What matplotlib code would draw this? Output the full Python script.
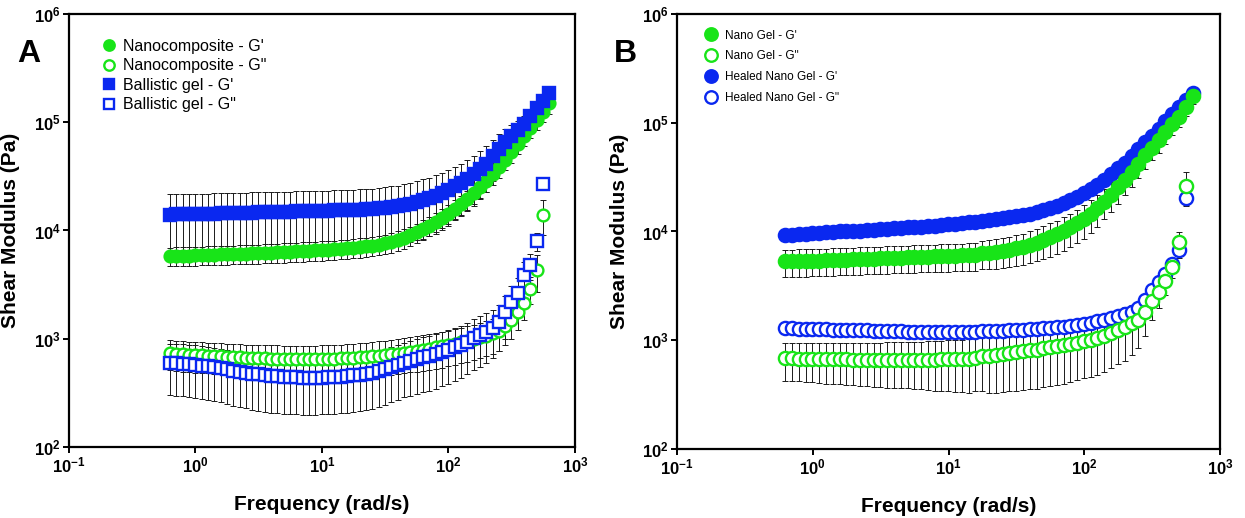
import numpy as np
import matplotlib
matplotlib.use("Agg")
import matplotlib.pyplot as plt
from matplotlib.ticker import FixedLocator, FuncFormatter, NullLocator

plt.rcParams['font.family'] = 'Liberation Sans'
plt.rcParams['mathtext.fontset'] = 'custom'
plt.rcParams['mathtext.bf'] = 'Liberation Sans:bold'
plt.rcParams['mathtext.rm'] = 'Liberation Sans'

# ---- data ----
# angular frequency, rad/s
FREQ = [0.628, 0.705, 0.791, 0.887, 0.995, 1.12, 1.25, 1.41, 1.58, 1.77, 1.99, 2.23, 2.50, 2.81, 3.15, 3.53, 3.96, 4.45, 4.99, 5.60, 6.28,
        7.05, 7.91, 8.87, 9.95, 11.2, 12.5, 14.1, 15.8, 17.7, 19.9, 22.3, 25.0, 28.1, 31.5, 35.3, 39.6, 44.5, 49.9, 56.0, 62.8,
        70.5, 79.1, 88.7, 99.5, 112, 125, 141, 158, 177, 199, 223, 250, 281, 315, 353, 396, 445, 499, 560, 628]
NAN = np.nan

# panel A
NANO_GP = [5800, 5820, 5850, 5870, 5900, 5920, 5950, 5980, 6000, 6030, 6060, 6090, 6120, 6150, 6180, 6210, 6250, 6290, 6330, 6370, 6400,
           6450, 6500, 6550, 6600, 6660, 6720, 6790, 6860, 6940, 7030, 7130, 7250, 7400, 7600, 7850, 8150, 8550, 9000, 9600, 10300,
           11100, 12000, 13100, 14300, 15800, 17500, 19500, 22000, 25000, 28500, 33000, 38500, 45000, 53000, 63000, 75000, 89000, 105000, 125000, 150000]
NANO_GP_ERR = [1150, 1150, 1160, 1160, 1170, 1170, 1180, 1180, 1190, 1190, 1200, 1200, 1210, 1220, 1230, 1240, 1250, 1260, 1270, 1280, 1290,
               1300, 1310, 1320, 1330, 1340, 1350, 1370, 1390, 1410, 1430, 1450, 1480, 1510, 1550, 1600, 1660, 1740, 1830, 1940, 2070,
               2220, 2400, 2600, 2850, 3150, 3500, 3900, 4400, 5000, 5700, 6600, 7700, 9000, 10600, 12600, 15000, 17800, 21000, 25000, 30000]
NANO_GPP = [740, 730, 720, 715, 710, 705, 700, 695, 690, 685, 680, 675, 670, 665, 660, 660, 655, 655, 650, 650, 650,
            650, 650, 650, 650, 655, 655, 660, 665, 670, 675, 680, 690, 700, 710, 720, 730, 745, 760, 775, 790,
            810, 830, 850, 875, 900, 930, 960, 990, 1030, 1070, 1120, 1180, 1300, 1480, 1750, 2150, 2900, 4300, 14000, NAN]
NANO_GPP_ERR = [230, 230, 228, 226, 225, 224, 222, 220, 220, 218, 216, 215, 214, 213, 212, 212, 212, 212, 212, 212, 212,
                213, 214, 215, 216, 218, 220, 222, 225, 228, 232, 236, 240, 245, 250, 255, 260, 266, 272, 278, 285,
                292, 300, 308, 316, 325, 335, 345, 355, 365, 380, 395, 410, 430, 480, 550, 650, 800, 1600, 5000, 0]
BALL_GP = [14000, 14050, 14100, 14150, 14200, 14250, 14300, 14350, 14400, 14450, 14500, 14550, 14600, 14650, 14700, 14750, 14800, 14850, 14900, 14950, 15000,
           15050, 15100, 15150, 15200, 15250, 15300, 15350, 15400, 15500, 15600, 15700, 15800, 16000, 16200, 16500, 16800, 17200, 17700, 18300, 19000,
           19800, 20800, 22000, 23500, 25500, 27500, 30000, 33000, 37000, 41500, 48500, 57000, 65000, 74000, 84000, 97000, 113000, 135000, 158000, 188000]
BALL_GP_ERR = [7500, 7500, 7500, 7550, 7550, 7600, 7600, 7650, 7650, 7700, 7700, 7750, 7750, 7800, 7800, 7850, 7850, 7900, 7900, 7950, 8000,
               8000, 8050, 8100, 8100, 8150, 8200, 8250, 8300, 8350, 8400, 8450, 8550, 8650, 8800, 9000, 9200, 9500, 9800, 10200, 10600,
               11000, 11500, 12000, 12500, 13000, 13800, 14800, 16000, 17500, 19000, 20000, 21000, 21000, 20000, 18000, 16000, 14000, 12000, 10000, 8000]
BALL_GPP = [600, 595, 590, 585, 575, 565, 555, 545, 535, 520, 505, 495, 485, 475, 468, 462, 456, 450, 446, 442, 440,
            438, 437, 437, 438, 440, 443, 447, 452, 458, 465, 475, 487, 500, 520, 545, 570, 600, 625, 650, 675,
            700, 725, 760, 790, 830, 880, 940, 1010, 1080, 1160, 1260, 1420, 1750, 2200, 2650, 3900, 4800, 8000, 27000, NAN]
BALL_GPP_ERR = [300, 298, 296, 294, 292, 290, 285, 280, 275, 270, 265, 262, 258, 255, 252, 250, 248, 246, 244, 242, 240,
                239, 238, 238, 238, 239, 240, 242, 245, 248, 252, 256, 262, 268, 275, 285, 298, 312, 328, 342, 355,
                368, 380, 395, 410, 425, 445, 470, 500, 530, 560, 600, 650, 750, 900, 1000, 1200, 1300, 1500, 800, 0]

# panel B
GEL_GP = [5300, 5320, 5340, 5360, 5380, 5400, 5430, 5460, 5490, 5520, 5550, 5580, 5610, 5640, 5670, 5700, 5730, 5760, 5790, 5820, 5850,
          5880, 5910, 5940, 5970, 6000, 6030, 6060, 6100, 6300, 6400, 6500, 6650, 6800, 7000, 7250, 7550, 7900, 8350, 8850, 9400,
          10100, 10900, 11900, 13000, 14500, 16400, 18800, 21800, 25500, 30000, 35500, 42000, 50000, 59000, 69000, 82000, 97000, 114000, 140000, 175000]
GEL_GP_ERR = [1500, 1500, 1500, 1510, 1510, 1520, 1520, 1530, 1530, 1540, 1550, 1560, 1570, 1580, 1590, 1600, 1610, 1620, 1630, 1640, 1650,
              1660, 1670, 1680, 1690, 1700, 1710, 1720, 1740, 1800, 1900, 1950, 2000, 2100, 2200, 2300, 2450, 2600, 2800, 3000, 3200,
              3450, 3700, 4000, 4400, 4800, 5300, 5900, 6600, 7500, 8500, 9600, 11000, 12500, 14000, 16000, 18000, 20000, 22000, 24000, 26000]
GEL_GPP = [680, 680, 678, 676, 674, 672, 670, 668, 667, 666, 665, 664, 663, 662, 662, 662, 662, 662, 662, 662, 663,
           664, 665, 666, 668, 670, 672, 675, 690, 710, 720, 730, 745, 760, 775, 790, 805, 820, 840, 860, 880,
           900, 925, 950, 980, 1010, 1050, 1100, 1160, 1240, 1330, 1430, 1550, 1800, 2300, 2800, 3500, 4700, 8000, 26000, NAN]
GEL_GPP_ERR = [260, 260, 260, 265, 265, 270, 270, 275, 275, 280, 280, 285, 285, 290, 290, 295, 295, 300, 300, 305, 310,
               315, 320, 325, 330, 335, 340, 345, 350, 370, 390, 400, 410, 420, 430, 440, 450, 460, 470, 480, 490,
               500, 510, 520, 535, 550, 570, 590, 610, 640, 680, 700, 700, 700, 750, 800, 900, 1000, 1900, 9000, 0]
HEAL_GP = [9200, 9300, 9400, 9500, 9600, 9700, 9800, 9900, 10000, 10050, 10100, 10200, 10300, 10400, 10500, 10600, 10700, 10800, 10900, 11000, 11100,
           11250, 11350, 11500, 11650, 11800, 11950, 12100, 12300, 12500, 12700, 12950, 13200, 13500, 13850, 14200, 14600, 15100, 15700, 16400, 17200,
           18200, 19400, 20800, 22500, 24500, 27000, 30000, 33500, 38000, 43000, 49500, 57000, 66000, 76000, 88000, 103000, 120000, 140000, 162000, 188000]
HEAL_GP_ERR = [300, 300, 300, 300, 300, 300, 300, 300, 300, 300, 300, 300, 300, 300, 300, 300, 300, 300, 300, 300, 300,
               300, 300, 300, 300, 300, 300, 300, 300, 300, 300, 300, 300, 300, 300, 300, 300, 300, 300, 300, 300,
               300, 300, 300, 300, 300, 300, 300, 300, 300, 300, 300, 300, 300, 300, 300, 300, 300, 300, 300, 300]
HEAL_GPP = [1300, 1290, 1280, 1275, 1270, 1265, 1260, 1255, 1250, 1245, 1240, 1235, 1230, 1225, 1220, 1215, 1210, 1205, 1200, 1200, 1195,
            1195, 1195, 1195, 1195, 1195, 1195, 1200, 1200, 1205, 1210, 1215, 1220, 1230, 1240, 1250, 1260, 1270, 1285, 1300, 1315,
            1330, 1350, 1375, 1400, 1440, 1490, 1540, 1600, 1660, 1730, 1820, 2000, 2350, 2900, 3400, 4100, 5000, 6700, 20500, NAN]
HEAL_GPP_ERR = [40, 40, 40, 40, 40, 40, 40, 40, 40, 40, 40, 40, 40, 40, 40, 40, 40, 40, 40, 40, 40,
                40, 40, 40, 40, 40, 40, 40, 40, 40, 40, 40, 40, 40, 40, 40, 40, 40, 40, 40, 40,
                45, 45, 50, 50, 55, 60, 60, 70, 80, 90, 100, 120, 150, 200, 250, 300, 500, 1000, 3000, 0]

GREEN = '#18e418'
BLUE = '#0a28f0'


def pow10(v, pos):
    return r'$\mathbf{10^{%d}}$' % int(round(np.log10(v)))


def setup_axes(ax):
    ax.set_xscale('log')
    ax.set_yscale('log')
    ax.set_xlim(0.1, 1000)
    ax.set_ylim(100, 1e6)
    ax.xaxis.set_major_locator(FixedLocator([0.1, 1, 10, 100, 1000]))
    ax.yaxis.set_major_locator(FixedLocator([1e2, 1e3, 1e4, 1e5, 1e6]))
    ax.xaxis.set_minor_locator(NullLocator())
    ax.yaxis.set_minor_locator(NullLocator())
    ax.xaxis.set_major_formatter(FuncFormatter(pow10))
    ax.yaxis.set_major_formatter(FuncFormatter(pow10))
    ax.tick_params(direction='out', length=4, width=1.4, labelsize=12, pad=2)
    for sp in ax.spines.values():
        sp.set_linewidth(1.6)
    ax.set_xlabel('Frequency (rad/s)', fontsize=15, fontweight='bold')
    ax.set_ylabel('Shear Modulus (Pa)', fontsize=15, fontweight='bold')


def draw(ax, y, err, marker, color, filled, label, ms, z):
    ax.errorbar(FREQ, y, yerr=err, fmt='none', ecolor='#1a1a1a', elinewidth=0.7,
                capsize=2.2, capthick=0.7, zorder=1)
    line, = ax.plot(FREQ, y, ls='none', marker=marker, ms=ms,
                    mfc=color if filled else 'white', mec=color, mew=1.7,
                    label=label, zorder=z)
    return line


fig = plt.figure(figsize=(12.45, 5.18), dpi=100)
axA = fig.add_axes([0.0554, 0.1371, 0.4064, 0.8359])
axB = fig.add_axes([0.5438, 0.1332, 0.4361, 0.8398])

# ---- panel A ----
setup_axes(axA)
hA = [draw(axA, NANO_GP, NANO_GP_ERR, 'o', GREEN, True, "Nanocomposite - G'", 8.5, 3),
      draw(axA, NANO_GPP, NANO_GPP_ERR, 'o', GREEN, False, 'Nanocomposite - G"', 8.5, 3),
      draw(axA, BALL_GP, BALL_GP_ERR, 's', BLUE, True, "Ballistic gel - G'", 8.0, 4),
      draw(axA, BALL_GPP, BALL_GPP_ERR, 's', BLUE, False, 'Ballistic gel - G"', 8.0, 4)]
legA = axA.legend(handles=hA, loc='upper left', bbox_to_anchor=(0.054, 0.957), frameon=False,
                  fontsize=11.5, handlelength=0.8, handletextpad=0.5, labelspacing=0.28,
                  borderaxespad=0)
for h in legA.legend_handles:
    h.set_markersize(7.5)
axA.xaxis.set_label_coords(0.5, -0.11)
axA.yaxis.set_label_coords(-0.097, 0.5)

# ---- panel B ----
setup_axes(axB)
hB_heal = [draw(axB, HEAL_GP, HEAL_GP_ERR, 'o', BLUE, True, "Healed Nano Gel - G'", 9.5, 3),
           draw(axB, HEAL_GPP, HEAL_GPP_ERR, 'o', BLUE, False, 'Healed Nano Gel - G"', 9.5, 3)]
hB_gel = [draw(axB, GEL_GP, GEL_GP_ERR, 'o', GREEN, True, "Nano Gel - G'", 9.5, 4),
          draw(axB, GEL_GPP, GEL_GPP_ERR, 'o', GREEN, False, 'Nano Gel - G"', 9.5, 4)]
legB = axB.legend(handles=hB_gel + hB_heal, loc='upper left', bbox_to_anchor=(0.045, 0.975),
                  frameon=False, fontsize=8.5, handlelength=0.9, handletextpad=0.7,
                  labelspacing=0.75, borderaxespad=0)
for h in legB.legend_handles:
    h.set_markersize(9)
axB.xaxis.set_label_coords(0.5, -0.11)
axB.yaxis.set_label_coords(-0.088, 0.5)

fig.text(0.0233, 0.896, 'A', fontsize=23, fontweight='bold', ha='center', va='center')
fig.text(0.502, 0.896, 'B', fontsize=23, fontweight='bold', ha='center', va='center')

fig.savefig('out.png', dpi=100)
